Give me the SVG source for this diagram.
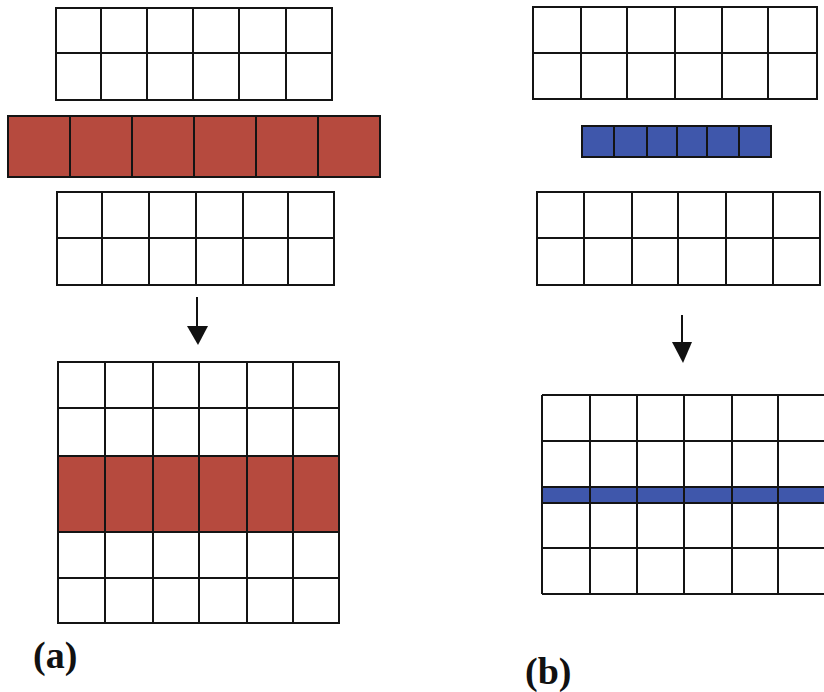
<svg xmlns="http://www.w3.org/2000/svg" width="824" height="692" viewBox="0 0 824 692">
  <style>
    .grid { fill: none; stroke: #141414; stroke-width: 2; }
    .cellw { fill: #ffffff; }
    .red { fill: #b64a3e; }
    .blue { fill: #3f57ab; }
    .lbl { font-weight: bold; font-size: 38px; fill: #111; }
    .arrow { stroke: #111; stroke-width: 2; fill: none; }
    .head { fill: #111; }
  </style>
  <rect width="824" height="692" fill="#ffffff"/>

  <!-- panel (a): two lattice blocks with a wide interlayer -->
  <g id="a-top">
    <rect class="cellw" x="56" y="8" width="276" height="92"/>
    <path class="grid" d="M56 8H332V100H56Z M56 53H332 M101 8V100 M147 8V100 M193 8V100 M239 8V100 M286 8V100"/>
  </g>
  <g id="a-layer">
    <rect class="red" x="8" y="116" width="372" height="61"/>
    <path class="grid" stroke-width="2.5" d="M8 116H380V177H8Z M70 116V177 M132 116V177 M194 116V177 M256 116V177 M318 116V177"/>
  </g>
  <g id="a-bottom-block">
    <rect class="cellw" x="57" y="192" width="277" height="93"/>
    <path class="grid" d="M57 192H334V285H57Z M57 238H334 M102 192V285 M149 192V285 M196 192V285 M243 192V285 M288 192V285"/>
  </g>
  <g id="a-result">
    <rect class="cellw" x="58" y="362" width="281" height="261"/>
    <rect class="red" x="58" y="456" width="281" height="76"/>
    <path class="grid" d="M58 362H339V623H58Z M58 408H339 M58 456H339 M58 532H339 M58 578H339 M105 362V623 M153 362V623 M199 362V623 M247 362V623 M293 362V623"/>
  </g>
  <text id="label-a" class="lbl" font-family="'Liberation Serif', 'Times New Roman', serif" x="33" y="668">(a)</text>

  <!-- panel (b): two lattice blocks with a thin interlayer -->
  <g id="b-top">
    <rect class="cellw" x="533" y="7" width="284" height="92"/>
    <path class="grid" d="M533 7H817V99H533Z M533 53H817 M581 7V99 M627 7V99 M675 7V99 M722 7V99 M768 7V99"/>
  </g>
  <g id="b-layer">
    <rect class="blue" x="582" y="126" width="189" height="31"/>
    <path class="grid" d="M582 126H771V157H582Z M614 126V157 M647 126V157 M677 126V157 M707 126V157 M739 126V157"/>
  </g>
  <g id="b-bottom-block">
    <rect class="cellw" x="537" y="192" width="283" height="93"/>
    <path class="grid" d="M537 192H820V285H537Z M537 238H820 M584 192V285 M632 192V285 M678 192V285 M726 192V285 M773 192V285"/>
  </g>
  <g id="b-result">
    <rect class="cellw" x="542" y="395" width="290" height="199"/>
    <rect class="blue" x="542" y="487" width="290" height="16"/>
    <path class="grid" d="M542 395H832 M542 594H832 M542 395V594 M542 441H832 M542 487H832 M542 503H832 M542 548H832 M590 395V594 M637 395V594 M684 395V594 M732 395V594 M778 395V594"/>
  </g>
  <text id="label-b" class="lbl" font-family="'Liberation Serif', 'Times New Roman', serif" x="525" y="684">(b)</text>

  <!-- process arrows -->
  <g id="connectors">
    <line class="arrow" x1="197" y1="297" x2="197" y2="330"/>
    <polygon class="head" points="187,326 208,326 198,345"/>
    <line class="arrow" x1="682" y1="315" x2="682" y2="346"/>
    <polygon class="head" points="672,342 692,342 683,363"/>
  </g>
</svg>
